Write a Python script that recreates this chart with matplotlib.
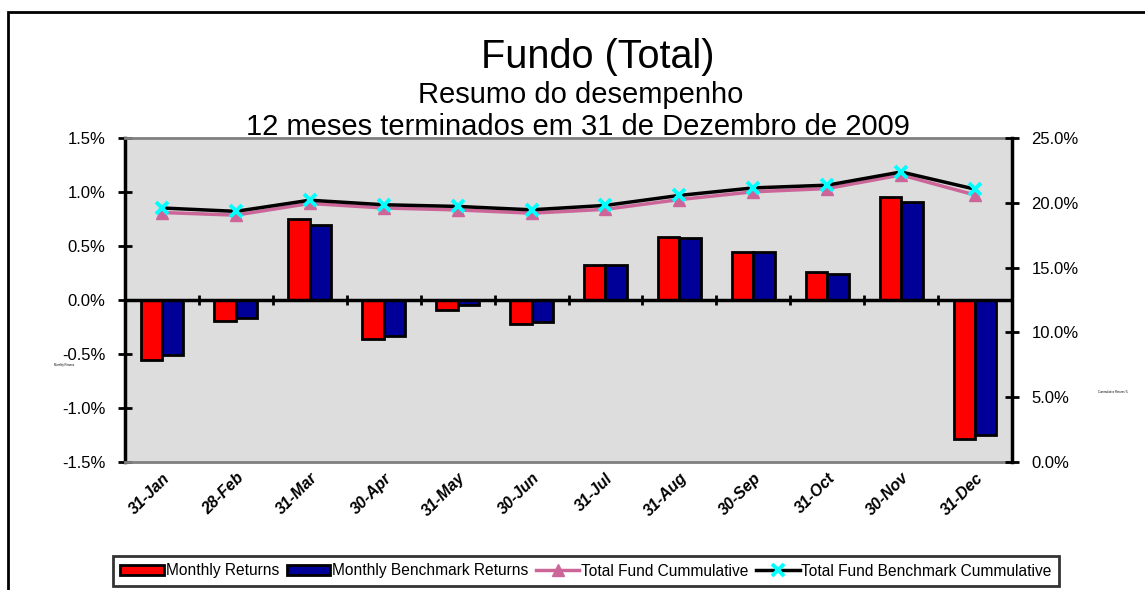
import numpy as np
import matplotlib.pyplot as plt
from matplotlib.patches import Rectangle
from matplotlib.ticker import FuncFormatter

plt.rcParams['font.family'] = ['Liberation Sans', 'DejaVu Sans']

months = ['31-Jan', '28-Feb', '31-Mar', '30-Apr', '31-May', '30-Jun',
          '31-Jul', '31-Aug', '30-Sep', '31-Oct', '30-Nov', '31-Dec']
monthly_ret = [-0.56, -0.19, 0.75, -0.36, -0.09, -0.22,
               0.32, 0.58, 0.44, 0.26, 0.95, -1.29]
monthly_bench = [-0.51, -0.17, 0.69, -0.33, -0.05, -0.20,
                 0.32, 0.57, 0.44, 0.24, 0.91, -1.25]
fund_cum = [19.25, 19.05, 19.95, 19.6, 19.45, 19.2,
            19.5, 20.25, 20.85, 21.1, 22.15, 20.6]
bench_cum = [19.6, 19.34, 20.2, 19.85, 19.72, 19.46,
             19.8, 20.57, 21.15, 21.36, 22.38, 21.05]

x = np.arange(len(months))
w = 0.29

fig = plt.figure(figsize=(11.45, 5.9), dpi=100)
# outer chart border (runs off right/bottom like the source)
fig.patches.append(Rectangle((8/1145, -0.1), 1.2, 1.1 - 12/590,
                             transform=fig.transFigure, fill=False,
                             edgecolor='black', lw=2))

ax = fig.add_axes([125/1145, 128/590, 887/1145, 324/590])
ax.set_facecolor('#dddddd')
b1 = ax.bar(x - w/2, monthly_ret, w, color='#ff0000', edgecolor='black', lw=2,
            label='Monthly Returns', zorder=3)
b2 = ax.bar(x + w/2, monthly_bench, w, color='#000099', edgecolor='black', lw=2,
            label='Monthly Benchmark Returns', zorder=3)
ax.axhline(0, color='black', lw=2.5, zorder=4)
ax.vlines(x[:-1] + 0.5, -0.05, 0.05, color='black', lw=2, zorder=4)
ax.set_xlim(-0.5, len(months) - 0.5)
ax.set_ylim(-1.5, 1.5)
ax.set_yticks(np.arange(-1.5, 1.51, 0.5))
ax.yaxis.set_major_formatter(FuncFormatter(lambda v, p: '%.1f%%' % v))
ax.set_xticks(x)
ax.set_xticklabels(months, rotation=45, ha='right', rotation_mode='anchor',
                   fontsize=11.5, fontweight='bold', fontstyle='italic')
ax.tick_params(axis='x', length=0, pad=6)
ax.tick_params(axis='y', direction='inout', length=10, width=2, labelsize=12, pad=9)
for s in ['top', 'bottom']:
    ax.spines[s].set_color('#808080')
    ax.spines[s].set_linewidth(2)
ax.spines['left'].set_linewidth(2.5)
ax.spines['right'].set_visible(False)

ax2 = ax.twinx()
l1, = ax2.plot(x, fund_cum, color='#cc6699', lw=2.5, marker='^', ms=8,
               mfc='#cc6699', mec='#cc6699', label='Total Fund Cummulative', zorder=5)
l2, = ax2.plot(x, bench_cum, color='black', lw=2.5, marker='x', ms=9, mew=2.8,
               mec='#00ffff', label='Total Fund Benchmark Cummulative', zorder=6)
ax2.set_ylim(0, 25)
ax2.set_yticks(np.arange(0, 25.1, 5))
ax2.yaxis.set_major_formatter(FuncFormatter(lambda v, p: '%.1f%%' % v))
ax2.tick_params(axis='y', direction='inout', length=10, width=2, labelsize=12, pad=9)
ax2.spines['right'].set_linewidth(2.5)
for s in ['top', 'bottom', 'left']:
    ax2.spines[s].set_visible(False)

# tiny axis titles
fig.text(64/1145, 1 - 365/590, 'Monthly Returns', fontsize=2, ha='center', va='center')
fig.text(1113/1145, 1 - 392/590, 'Cummulative Returns %', fontsize=2, ha='center', va='center')

fig.text(598/1145, 1 - 57/590, 'Fundo (Total)', fontsize=28.5, ha='center', va='center')
fig.text(581/1145, 1 - 95/590, 'Resumo do desempenho', fontsize=21, ha='center', va='center')
fig.text(578/1145, 1 - 127/590, '12 meses terminados em 31 de Dezembro de 2009', fontsize=21,
         ha='center', va='center')

leg = fig.legend(handles=[b1, b2, l1, l2], loc='center', ncol=4,
                 bbox_to_anchor=(586/1145, 1 - 571/590), fontsize=11.2,
                 frameon=True, fancybox=False, edgecolor='black',
                 handlelength=2.8, handleheight=0.6, handletextpad=0.1,
                 columnspacing=0.5, borderpad=0.5)
leg.get_frame().set_linewidth(2)

fig.savefig('out.png', dpi=100)
